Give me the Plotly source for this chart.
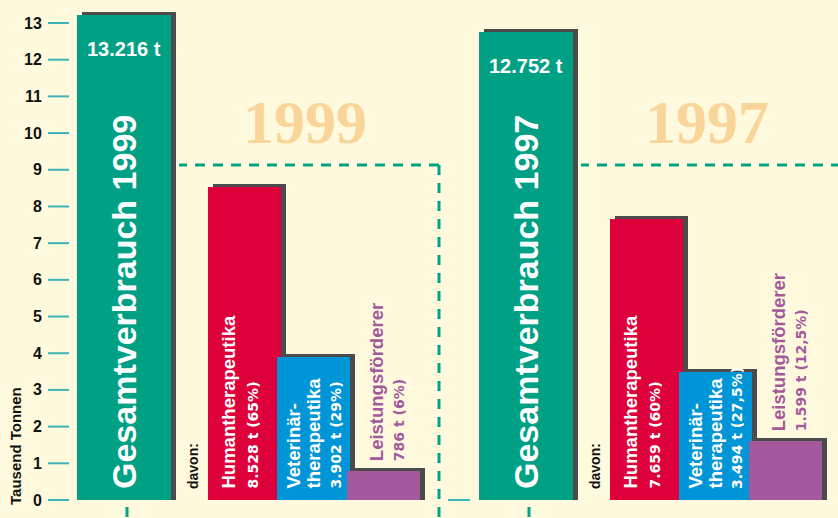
import plotly.graph_objects as go

# ---------------- data ----------------
years = ["1999", "1997"]
total = [13.216, 12.752]
human = [8.528, 7.659]
vet = [3.902, 3.494]
leist = [0.786, 1.599]
human_pct = ["65%", "60%"]
vet_pct = ["29%", "27,5%"]
leist_pct = ["6%", "12,5%"]
total_label = "Gesamtverbrauch"
sub_labels = [["Humantherapeutika"], ["Veterinär-", "therapeutika"], ["Leistungsförderer"]]
davon_label = "davon:"
y_ticks = list(range(0, 14))
axis_title = "Tausend Tonnen"

# ---------------- layout constants ----------------
W, H = 838, 518
Y0_PX, Y13_PX = 500, 23
SCALE = (Y0_PX - Y13_PX) / 13.0          # px per unit
Y_LO = -(H - Y0_PX) / SCALE
Y_HI = 13 + Y13_PX / SCALE

def px(d):
    return d / SCALE

BG = "#FFFADD"
TEAL = "#00A085"
RED = "#DE003A"
BLUE = "#0095D6"
PURPLE = "#A35A9C"
SHADOW = "#4B4B4B"
DASH = "#00A383"
TICK = "#3DB4B9"
YEARC = "#F9D599"

GROUP_LEFT = [77, 479]
MAIN_W = 94
SUB_OFF = [131, 200, 270]
SUB_W = 73
SH_DX, SH_DY = 5, 3

SANS = "Liberation Sans, Arial, sans-serif"
WIDE = "DejaVu Sans, Verdana, sans-serif"
SERIF = "Liberation Serif, Times New Roman, serif"


def fmt_t(v):
    t = int(round(v * 1000))
    return f"{t:,}".replace(",", ".") + " t"


# bar geometry
xs, ws, vals, cols = [], [], [], []
for g in range(2):
    gl = GROUP_LEFT[g]
    xs.append(gl + MAIN_W / 2); ws.append(MAIN_W); vals.append(total[g]); cols.append(TEAL)
    for k, (series, c) in enumerate([(human, RED), (vet, BLUE), (leist, PURPLE)]):
        sl = gl + SUB_OFF[k]
        xs.append(sl + SUB_W / 2); ws.append(SUB_W); vals.append(series[g]); cols.append(c)

fig = go.Figure()
# shadows
fig.add_trace(go.Bar(
    x=[x + SH_DX for x in xs], y=[v + px(SH_DY) for v in vals], width=ws,
    marker=dict(color=SHADOW, line=dict(width=0)), hoverinfo="skip", showlegend=False))
# bars
for k, name in enumerate(["Gesamt", "Human", "Vet", "Leist"]):
    ii = [k, k + 4]
    fig.add_trace(go.Bar(
        x=[xs[i] for i in ii], y=[vals[i] for i in ii], width=[ws[i] for i in ii],
        marker=dict(color=cols[ii[0]], line=dict(width=0)), name=name, showlegend=False))

shapes = []
ann = []

# axis ticks & labels
for t in y_ticks:
    shapes.append(dict(type="line", xref="x", yref="y", x0=GROUP_LEFT[0] - 29, x1=GROUP_LEFT[0] - 8,
                       y0=t, y1=t, line=dict(color=TICK, width=2)))
    ann.append(dict(x=GROUP_LEFT[0] - 33, y=t, text=str(t), showarrow=False, xanchor="right",
                    yanchor="middle", font=dict(family=SANS, size=16, color="#111111", weight="bold")))
shapes.append(dict(type="line", xref="x", yref="y", x0=GROUP_LEFT[1] - 31, x1=GROUP_LEFT[1] - 9,
                   y0=0, y1=0, line=dict(color=TICK, width=2)))
ann.append(dict(x=15, y=px(Y0_PX - 446), text=axis_title, textangle=-90, showarrow=False,
                xanchor="center", yanchor="middle",
                font=dict(family=SANS, size=15, color="#111111", weight="bold")))

FRAME_LEVEL = px(Y0_PX - 165)
GROUP_SPAN = 362
for g in range(2):
    gl = GROUP_LEFT[g]
    right = gl + GROUP_SPAN
    # dashed frame
    shapes.append(dict(type="line", xref="x", yref="y", x0=right, x1=gl + MAIN_W + SH_DX + 3,
                       y0=FRAME_LEVEL, y1=FRAME_LEVEL, line=dict(color=DASH, width=3, dash="10px,8px")))
    shapes.append(dict(type="line", xref="x", yref="y", x0=right, x1=right,
                       y0=FRAME_LEVEL, y1=Y_LO, line=dict(color=DASH, width=3, dash="10px,8px")))
    # dashed stub below main bar
    shapes.append(dict(type="line", xref="x", yref="y", x0=gl + MAIN_W / 2 + 3, x1=gl + MAIN_W / 2 + 3,
                       y0=-px(7), y1=Y_LO, line=dict(color=DASH, width=3, dash="10px,8px")))

    # year watermark
    ann.append(dict(x=gl + 228, y=px(Y0_PX - 122), text=years[g], showarrow=False,
                    xanchor="center", yanchor="middle",
                    font=dict(family=SERIF, size=62, color=YEARC, weight="bold")))
    # total value
    ann.append(dict(x=gl + MAIN_W / 2, y=total[g] - px(34), text=fmt_t(total[g]), showarrow=False,
                    xanchor="center", yanchor="middle",
                    font=dict(family=SANS, size=20, color="white", weight="bold")))
    # vertical total label
    ann.append(dict(x=gl + MAIN_W / 2, y=px(Y0_PX - 491), text=f"{total_label} {years[g]}",
                    textangle=-90, showarrow=False, xanchor="center", yanchor="bottom",
                    font=dict(family=SANS, size=34, color="white", weight="bold")))
    # davon
    ann.append(dict(x=gl + 116, y=px(Y0_PX - 491), text=davon_label, textangle=-90, showarrow=False,
                    xanchor="center", yanchor="bottom",
                    font=dict(family=SANS, size=14, color="#111111", weight="bold")))

    base = px(Y0_PX - 491)
    # Humantherapeutika
    sl = gl + SUB_OFF[0]
    ann.append(dict(x=sl + 20, y=base, text=sub_labels[0][0], textangle=-90, showarrow=False,
                    xanchor="center", yanchor="bottom",
                    font=dict(family=SANS, size=18.5, color="white", weight="bold")))
    ann.append(dict(x=sl + 44, y=base, text=f"{fmt_t(human[g])} ({human_pct[g]})", textangle=-90,
                    showarrow=False, xanchor="center", yanchor="bottom",
                    font=dict(family=WIDE, size=14, color="white", weight="bold")))
    # Veterinär
    sl = gl + SUB_OFF[1]
    ann.append(dict(x=sl + 16, y=base, text=sub_labels[1][0], textangle=-90, showarrow=False,
                    xanchor="center", yanchor="bottom",
                    font=dict(family=SANS, size=18.5, color="white", weight="bold")))
    ann.append(dict(x=sl + 36, y=base, text=sub_labels[1][1], textangle=-90, showarrow=False,
                    xanchor="center", yanchor="bottom",
                    font=dict(family=SANS, size=18.5, color="white", weight="bold")))
    ann.append(dict(x=sl + 58, y=base, text=f"{fmt_t(vet[g])} ({vet_pct[g]})", textangle=-90,
                    showarrow=False, xanchor="center", yanchor="bottom",
                    font=dict(family=WIDE, size=14, color="white", weight="bold")))
    # Leistungsförderer (above bar)
    sl = gl + SUB_OFF[2]
    lb = leist[g] + px(SH_DY + 5)
    ann.append(dict(x=sl + 29, y=lb, text=sub_labels[2][0], textangle=-90, showarrow=False,
                    xanchor="center", yanchor="bottom",
                    font=dict(family=SANS, size=18.5, color=PURPLE, weight="bold")))
    ann.append(dict(x=sl + 52, y=lb, text=f"{fmt_t(leist[g])} ({leist_pct[g]})", textangle=-90,
                    showarrow=False, xanchor="center", yanchor="bottom",
                    font=dict(family=WIDE, size=14, color=PURPLE, weight="bold")))

fig.update_layout(
    width=W, height=H, margin=dict(l=0, r=0, t=0, b=0),
    paper_bgcolor=BG, plot_bgcolor=BG, barmode="overlay", bargap=0,
    xaxis=dict(range=[0, W], visible=False, fixedrange=True),
    yaxis=dict(range=[Y_LO, Y_HI], visible=False, fixedrange=True),
    shapes=shapes, annotations=ann, showlegend=False,
)
fig.write_html(
    "out.html",
    config={"displayModeBar": False},
    post_script="document.body.style.margin='0';document.body.style.background='" + BG + "';",
)
